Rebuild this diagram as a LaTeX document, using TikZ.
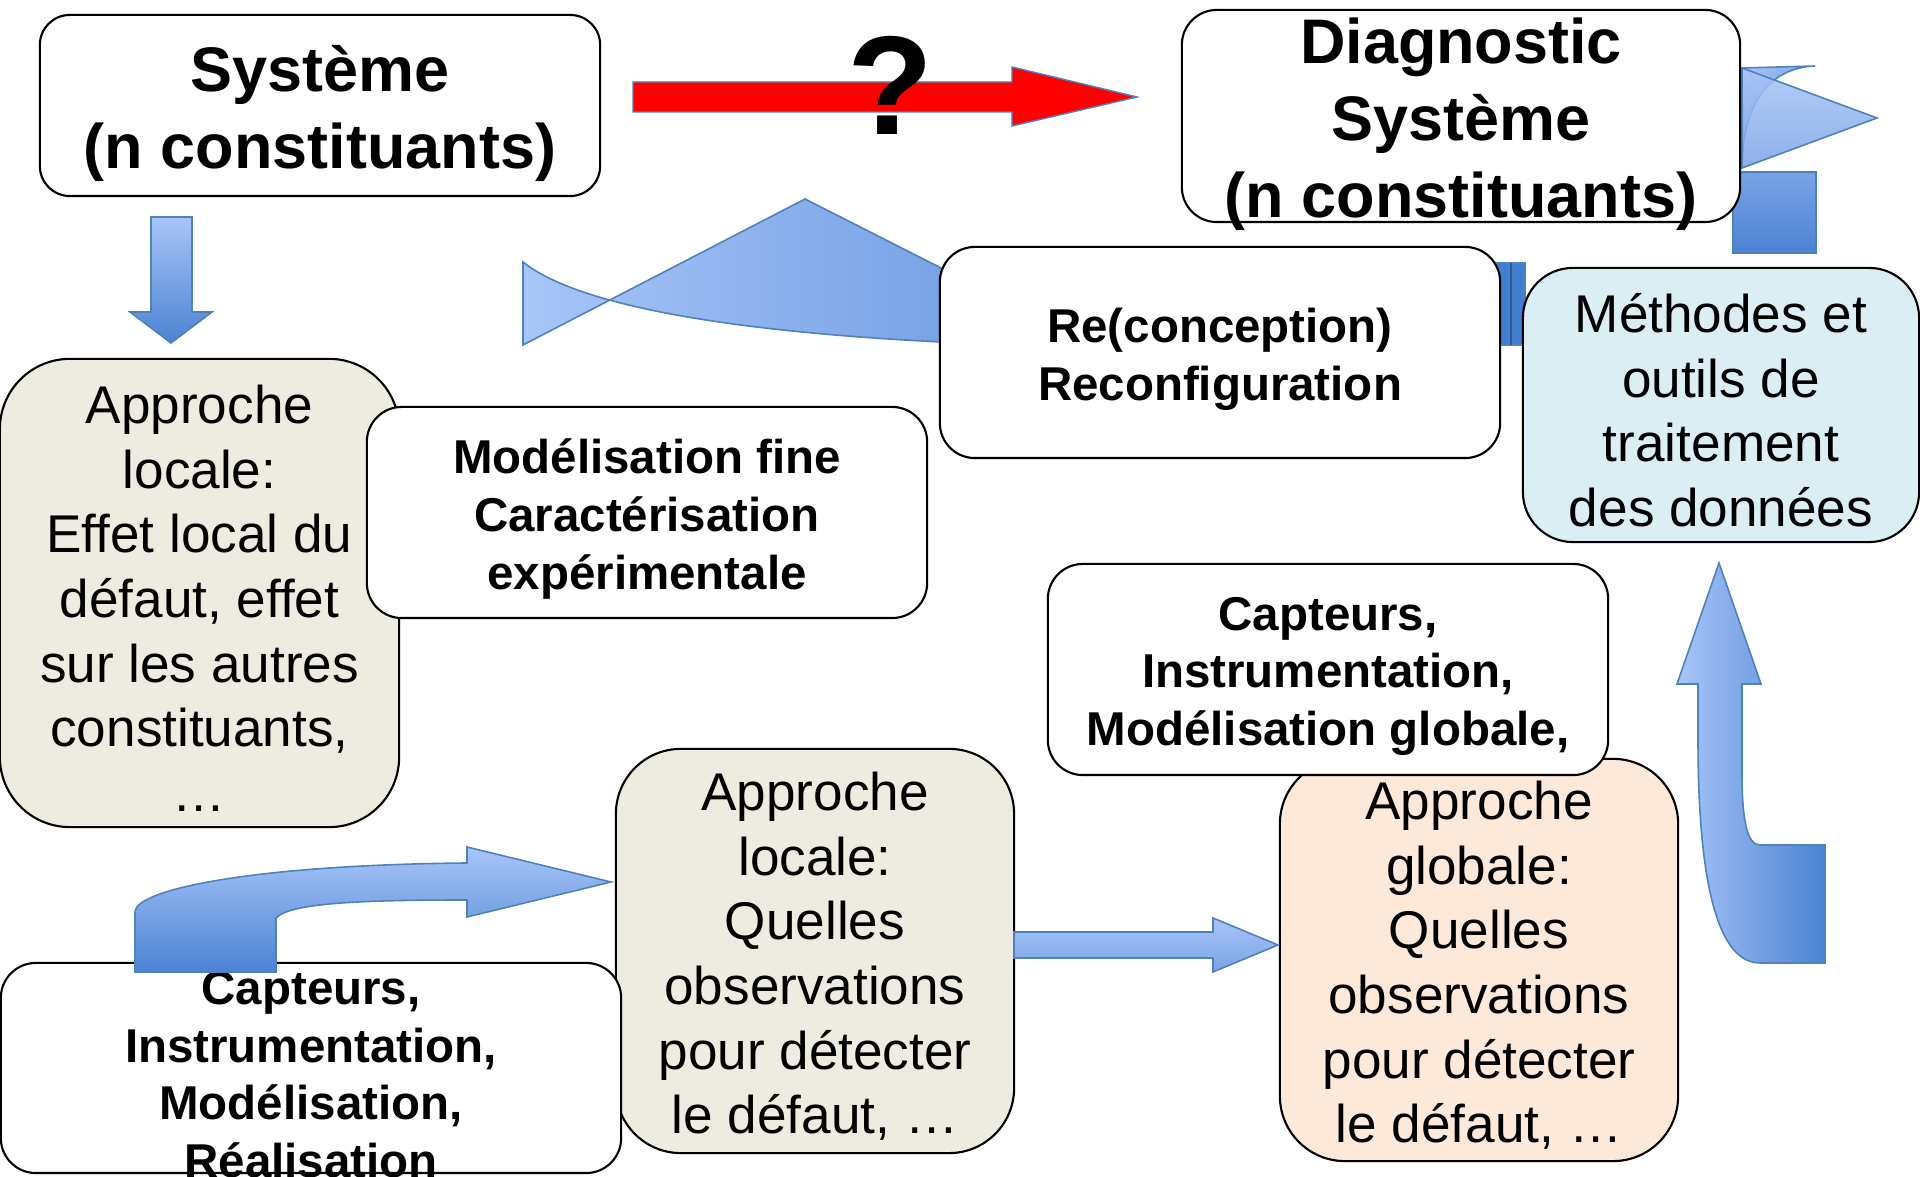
\documentclass[tikz,border=0pt]{standalone}
\usepackage{fontspec}
\setmainfont{Liberation Sans}
\definecolor{beige}{HTML}{EEECE1}
\definecolor{peche}{HTML}{FDE9D9}
\definecolor{ciel}{HTML}{DBEEF4}
\definecolor{trait}{HTML}{4F81BD}
\definecolor{bleuA}{HTML}{A8C5F8}
\definecolor{bleuB}{HTML}{4C83D3}
\definecolor{bleuC}{HTML}{7AA3E6}
\definecolor{bleuD}{HTML}{3F7ED0}
\begin{document}
\begin{tikzpicture}[x=0.01cm,y=-0.01cm,
        boite/.style={draw,line width=0.6pt,inner sep=0pt},
        grand/.style={font=\bfseries\fontsize{17.9}{21.9}\selectfont,align=center,yshift=-2.3pt},
        moyen/.style={font=\bfseries\fontsize{13.5}{16.4}\selectfont,align=center,yshift=-1.9pt},
        normal/.style={font=\fontsize{15.1}{18.4}\selectfont,align=center,yshift=-1.5pt},
        fleche/.style={draw=trait,line width=0.45pt}]
        \fill[white] (0,0) rectangle (1920,1177);
        \useasboundingbox (0,0) rectangle (1920,1177);
        % formes bleues du haut
        \shadedraw[left color=bleuA, right color=bleuC, fleche] (523,262) -- (523,345) -- (805,199) -- (941,268) -- (941,342) .. controls (700,330) and (570,300) .. (523,262) -- cycle;
        \filldraw[fill=bleuD, draw=trait, line width=0.45pt] (1496,263) rectangle (1525,345);
        \draw[trait!70!black, line width=0.3pt] (1511,263) -- (1511,345);
        \shadedraw[top color=bleuC, bottom color=bleuB, fleche] (1733,172) rectangle (1816,253);
        \shadedraw[left color=bleuA, right color=bleuC, fleche] (1742,68) -- (1815,66) .. controls (1765,68) and (1742,110) .. (1742,168) -- cycle;
        \shadedraw[top color=bleuA, bottom color=bleuC, fleche, fill opacity=0.85] (1742,68) -- (1877,118) -- (1742,168) -- cycle;
        % boites
        \node[boite, fill=white, minimum width=5.6cm, minimum height=1.81cm, rounded corners=0.3cm] (sys) at (320,105.5) {};
        \node[grand] (sysT) at (sys) {Système\\(n constituants)};
        \node[boite, fill=white, minimum width=5.58cm, minimum height=2.12cm, rounded corners=0.35cm] (diag) at (1461,116) {};
        \node[grand] (diagT) at (diag) {Diagnostic\\Système\\(n constituants)};
        \node[boite, fill=white, minimum width=5.6cm, minimum height=2.11cm, rounded corners=0.35cm] (recon) at (1220,352.5) {};
        \node[moyen] (reconT) at (recon) {Re(conception)\\Reconfiguration};
        \node[boite, fill=ciel, minimum width=3.96cm, minimum height=2.74cm, rounded corners=0.5cm] (meth) at (1721,405) {};
        \node[normal] (methT) at (meth) {Méthodes et\\outils de\\traitement\\des données};
        \node[boite, fill=beige, minimum width=3.99cm, minimum height=4.68cm, rounded corners=0.7cm] (locA) at (199.5,593) {};
        \node[normal] (locAT) at (locA) {Approche\\locale:\\Effet local du\\défaut, effet\\sur les autres\\constituants,\\…};
        \node[boite, fill=white, minimum width=5.6cm, minimum height=2.11cm, rounded corners=0.35cm] (modf) at (647,512.5) {};
        \node[moyen] (modfT) at (modf) {Modélisation fine\\Caractérisation\\expérimentale};
        \node[boite, fill=peche, minimum width=3.98cm, minimum height=4.02cm, rounded corners=0.65cm] (apg) at (1479,960) {};
        \node[normal] (apgT) at (apg) {Approche\\globale:\\Quelles\\observations\\pour détecter\\le défaut, …};
        \node[boite, fill=white, minimum width=5.6cm, minimum height=2.11cm, rounded corners=0.35cm] (capg) at (1328,669.5) {};
        \node[moyen] (capgT) at (capg) {Capteurs,\\Instrumentation,\\Modélisation globale,};
        \node[boite, fill=beige, minimum width=3.98cm, minimum height=4.04cm, rounded corners=0.65cm] (apl) at (815,951) {};
        \node[normal] (aplT) at (apl) {Approche\\locale:\\Quelles\\observations\\pour détecter\\le défaut, …};
        \node[boite, fill=white, minimum width=6.2cm, minimum height=2.1cm, rounded corners=0.35cm] (capl) at (311,1068) {};
        \node[moyen] (caplT) at (capl) {Capteurs,\\Instrumentation,\\Modélisation,\\Réalisation};
        % fleches
        \filldraw[fill=red, draw=trait, line width=0.4pt] (633,82) -- (1012,82) -- (1012,67) -- (1137,97) -- (1012,126) -- (1012,112) -- (633,112) -- cycle;
        \node[font=\bfseries\fontsize{40}{40}\selectfont] (quest) at (890,85) {?};
        \shadedraw[top color=bleuA, bottom color=bleuB, fleche] (151,217) -- (192,217) -- (192,312) -- (212,312) -- (171,343) -- (130,312) -- (151,312) -- cycle;
        \shadedraw[top color=bleuA, bottom color=bleuC, fleche] (1014,932) -- (1213,932) -- (1213,918) -- (1278,945) -- (1213,972) -- (1213,958) -- (1014,958) -- cycle;
        \shadedraw[left color=bleuA, right color=bleuB, fleche] (1719,563) -- (1761,684) -- (1742,684) -- (1742,773) .. controls (1742,820) and (1747,845) .. (1760,845) -- (1825,845) -- (1825,963) -- (1760,963) .. controls (1712,963) and (1698,860) .. (1698,740) -- (1698,684) -- (1677,684) -- cycle;
        \shadedraw[top color=bleuA, bottom color=bleuB, fleche] (135,972) -- (135,912) .. controls (135,890) and (250,865) .. (467,863) -- (467,847) -- (611,882) -- (467,917) -- (467,900) .. controls (360,900) and (290,903) .. (276,918) -- (276,972) -- cycle;
\end{tikzpicture}
\end{document}
